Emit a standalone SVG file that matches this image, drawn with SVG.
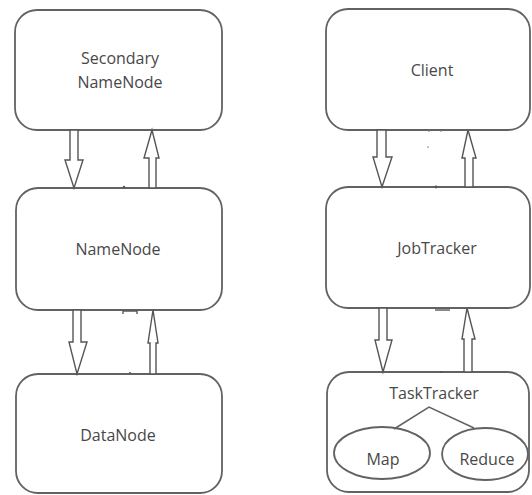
<svg xmlns="http://www.w3.org/2000/svg" width="532" height="495" viewBox="0 0 532 495">
  <style>
    .box { fill: #ffffff; stroke: #626262; stroke-width: 1.8; }
    .arrow { fill: #ffffff; stroke: #555555; stroke-width: 1.4; stroke-linejoin: miter; }
    .link { fill: none; stroke: #626262; stroke-width: 1.5; }
    .mark { fill: none; stroke: #5a5a5a; stroke-width: 1.4; }
    .label { font-family: "Open Sans", "Liberation Sans", sans-serif; font-size: 16px; fill: #484848; text-anchor: middle; }
  </style>
  <rect width="532" height="495" fill="#ffffff"/>

  <!-- HDFS column -->
  <g id="secondary-namenode">
    <rect class="box" x="15" y="10" width="207" height="120" rx="22" ry="22"/>
    <text class="label" x="120" y="64">Secondary</text>
    <text class="label" x="120" y="88">NameNode</text>
  </g>
  <g id="namenode">
    <rect class="box" x="16" y="188" width="206" height="122" rx="22" ry="22"/>
    <text class="label" x="118" y="255">NameNode</text>
  </g>
  <g id="datanode">
    <rect class="box" x="16" y="374" width="206" height="119" rx="22" ry="22"/>
    <text class="label" x="118" y="441">DataNode</text>
  </g>

  <!-- MapReduce column -->
  <g id="client">
    <rect class="box" x="326" y="9" width="204" height="121" rx="22" ry="22"/>
    <text class="label" x="432" y="76">Client</text>
  </g>
  <g id="jobtracker">
    <rect class="box" x="326" y="187" width="204" height="121" rx="22" ry="22"/>
    <text class="label" x="437" y="254">JobTracker</text>
  </g>
  <g id="tasktracker">
    <rect class="box" x="327" y="372" width="202" height="120" rx="22" ry="22"/>
    <text class="label" x="434" y="399">TaskTracker</text>
  </g>
  <g id="map">
    <ellipse class="box" cx="382" cy="453" rx="48" ry="26"/>
    <text class="label" x="383" y="465">Map</text>
  </g>
  <g id="reduce">
    <ellipse class="box" cx="485" cy="454" rx="43" ry="26"/>
    <text class="label" x="487" y="465">Reduce</text>
  </g>

  <g id="connectors">
    <!-- Secondary NameNode <-> NameNode -->
    <polygon class="arrow" points="70,130 78,130 78,160 83,160 74,188 65,160 70,160"/>
    <polygon class="arrow" points="152,130 159,158 156,158 156,188 149,188 149,158 144,158"/>
    <!-- NameNode <-> DataNode -->
    <polygon class="arrow" points="73,310 81,310 81,342 87,342 77,374 69,342 73,342"/>
    <polygon class="arrow" points="153,310 158,343 156,343 156,374 150,374 150,343 148,343"/>
    <!-- Client <-> JobTracker -->
    <polygon class="arrow" points="377,130 386,130 386,157 392,157 382,187 373,157 377,157"/>
    <polygon class="arrow" points="468,130 476,158 473,158 473,187 465,187 465,158 462,158"/>
    <!-- JobTracker <-> TaskTracker -->
    <polygon class="arrow" points="379,308 387,308 387,340 392,340 383,372 375,340 379,340"/>
    <polygon class="arrow" points="467,308 475,339 472,339 472,372 464,372 464,339 462,339"/>
    <!-- TaskTracker to Map and Reduce -->
    <polyline class="link" points="394,429 429,407 474,428"/>
  </g>

  <!-- small marks along the box edges -->
  <g id="edge-marks">
    <circle cx="124" cy="187" r="1.2" fill="#555555"/>
    <circle cx="436" cy="187" r="1.4" fill="#555555"/>
    <circle cx="130" cy="373" r="1.1" fill="#555555"/>
    <circle cx="441" cy="372" r="1.1" fill="#555555"/>
    <circle cx="428" cy="147" r="0.8" fill="#777777"/>
    <circle cx="429" cy="131" r="0.8" fill="#777777"/>
    <circle cx="441" cy="131" r="0.8" fill="#777777"/>
    <polyline class="mark" points="123,314 123,311 137,311 137,314"/>
    <line class="mark" x1="435" y1="310" x2="450" y2="310" stroke-width="2"/>
  </g>
</svg>
